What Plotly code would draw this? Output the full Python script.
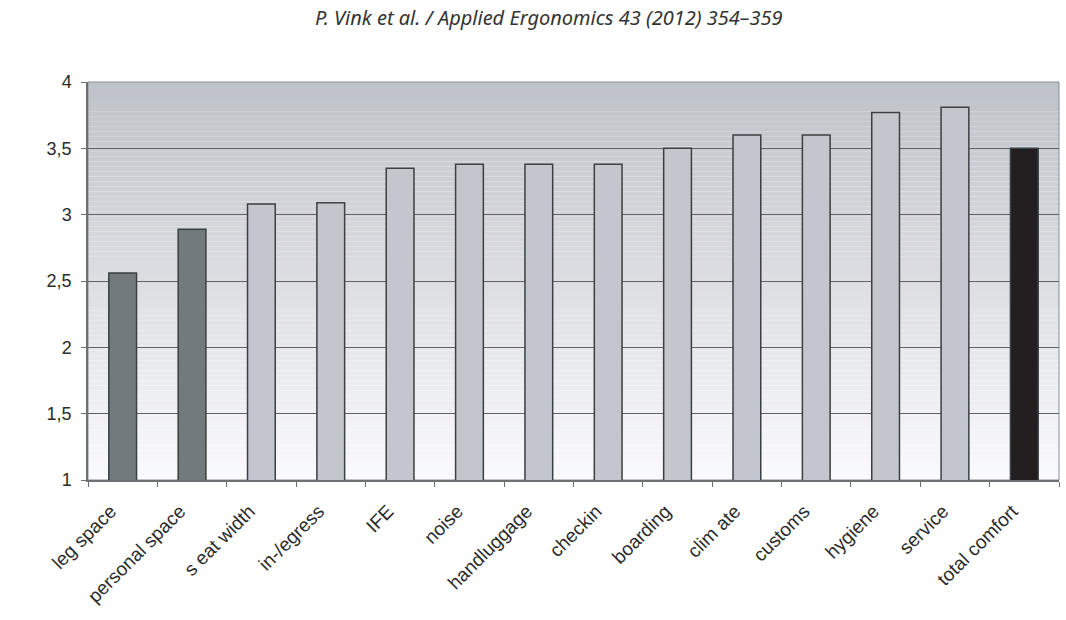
import plotly.graph_objects as go

# Comfort scores per aspect (mean rating)
categories = ["leg space", "personal space", "s eat width", "in-/egress", "IFE", "noise",
              "handluggage", "checkin", "boarding", "clim ate", "customs", "hygiene",
              "service", "total comfort"]
scores = [2.56, 2.89, 3.08, 3.09, 3.35, 3.38, 3.38, 3.38, 3.50, 3.60, 3.60, 3.77, 3.81, 3.50]
bar_colors = ["#737a7d", "#737a7d"] + ["#c3c6cc"] * 11 + ["#231f20"]

y_ticks = [1, 1.5, 2, 2.5, 3, 3.5, 4]
y_tick_labels = ["1", "1,5", "2", "2,5", "3", "3,5", "4"]

fig = go.Figure(go.Bar(
    x=categories,
    y=scores,
    marker=dict(color=bar_colors, line=dict(color="#3b4042", width=1.5)),
    width=0.4,
))

# vertical grey gradient behind the bars (dark at the top, near white at the bottom)
n_bands = 80
top_rgb = (190, 194, 201)
bottom_rgb = (250, 250, 252)
shapes = []
for i in range(n_bands):
    t = i / (n_bands - 1)
    r = round(bottom_rgb[0] + (top_rgb[0] - bottom_rgb[0]) * t)
    g = round(bottom_rgb[1] + (top_rgb[1] - bottom_rgb[1]) * t)
    b = round(bottom_rgb[2] + (top_rgb[2] - bottom_rgb[2]) * t)
    y0 = 1 + 3 * i / n_bands
    y1 = 1 + 3 * (i + 1) / n_bands
    shapes.append(dict(type="rect", xref="paper", yref="y", x0=0, x1=1, y0=y0, y1=y1,
                       fillcolor=f"rgb({r},{g},{b})", line=dict(width=0), layer="below"))
# thin frame around the plotting area
shapes.append(dict(type="rect", xref="paper", yref="paper", x0=0, x1=1, y0=0, y1=1,
                   line=dict(color="#8a8f94", width=1), fillcolor="rgba(0,0,0,0)", layer="below"))

fig.update_layout(
    width=1066, height=620,
    margin=dict(l=88, r=7, t=82, b=140),
    paper_bgcolor="white",
    plot_bgcolor="rgba(0,0,0,0)",
    shapes=shapes,
    showlegend=False,
    bargap=0.6,
    font=dict(family="Liberation Sans, Arial, sans-serif", color="#2b2b2b"),
    annotations=[dict(
        text="<i>P. Vink et al. / Applied Ergonomics 43 (2012) 354–359</i>",
        xref="paper", yref="paper", x=0.475, y=1, yshift=65, showarrow=False,
        xanchor="center", yanchor="middle",
        font=dict(family="Noto Sans, sans-serif", size=20, color="#333333"),
    )],
)

fig.update_xaxes(
    type="category",
    tickangle=-45,
    tickfont=dict(size=19, color="#2b2b2b"),
    showline=True, linecolor="#6b7075", linewidth=1.5,
    ticks="outside", ticklen=5, tickcolor="#6b7075", tickson="boundaries",
    showgrid=False,
    ticklabelstandoff=11,
    ticklabelshift=-12,
)
fig.update_yaxes(
    range=[1, 4],
    tickvals=y_ticks, ticktext=y_tick_labels,
    tickfont=dict(size=18, color="#2b2b2b"),
    showline=True, linecolor="#6b7075", linewidth=1.5,
    ticks="outside", ticklen=5, tickcolor="#6b7075",
    showgrid=True, gridcolor="#5f6468", gridwidth=1,
    zeroline=False,
    ticklabelstandoff=6,
)

fig.write_html("out.html")
